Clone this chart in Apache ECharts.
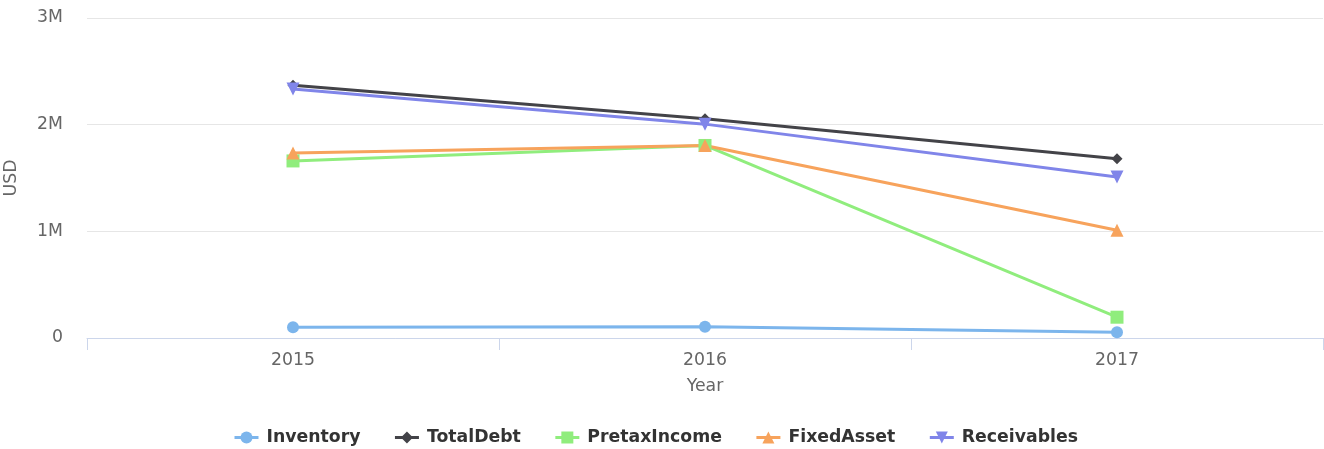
<!DOCTYPE html>
<html>
<head>
<meta charset="utf-8">
<script src="https://cdn.jsdelivr.net/npm/echarts@6/dist/echarts.min.js"></script>
<style>
  html, body { margin: 0; padding: 0; background: #fff; }
  #main { width: 1324px; height: 449px; }
</style>
</head>
<body>
<div id="main"></div>
<script>
// 数据
var years = ['2015', '2016', '2017'];
var inventory = [100000, 105000, 55000];
var totalDebt = [2370000, 2055000, 1680000];
var pretaxIncome = [1660000, 1805000, 195000];
var fixedAsset = [1735000, 1805000, 1010000];
var receivables = [2335000, 2005000, 1510000];

var font = '"DejaVu Sans", Verdana, sans-serif';
var myChart = echarts.init(document.getElementById('main'));

function line(name, data, color, symbol, size, rotate) {
    return {
        name: name,
        type: 'line',
        data: data,
        symbol: symbol,
        symbolSize: size,
        symbolRotate: rotate || 0,
        showAllSymbol: true,
        lineStyle: { width: 3, color: color },
        itemStyle: { color: color },
        emphasis: { disabled: true }
    };
}

myChart.setOption({
    animation: false,
    textStyle: { fontFamily: font },
    grid: { left: 87, right: 1, top: 18, bottom: 111, containLabel: false, outerBoundsMode: 'none' },
    legend: {
        top: 424,
        left: 228,
        itemGap: 33,
        itemWidth: 24,
        itemHeight: 15,
        lineStyle: { width: 3 },
        textStyle: { fontFamily: font, fontSize: 17.3, fontWeight: 'bold', color: '#333', padding: [0, 0, 0, 3] }
    },
    xAxis: {
        type: 'category',
        data: years,
        name: 'Year',
        nameLocation: 'middle',
        nameGap: 40,
        nameTextStyle: { fontFamily: font, fontSize: 17.3, color: '#666' },
        axisLine: { lineStyle: { color: '#ccd6eb', width: 1 } },
        axisTick: { show: true, length: 12, lineStyle: { color: '#ccd6eb' } },
        axisLabel: { fontFamily: font, fontSize: 17.3, color: '#666', margin: 14 }
    },
    yAxis: {
        type: 'value',
        min: 0,
        max: 3000000,
        interval: 1000000,
        name: 'USD',
        nameLocation: 'middle',
        nameGap: 67,
        nameTextStyle: { fontFamily: font, fontSize: 17.3, color: '#666' },
        axisLine: { show: false },
        axisTick: { show: false },
        splitLine: { lineStyle: { color: '#e6e6e6', width: 1 } },
        axisLabel: {
            fontFamily: font,
            fontSize: 17.3,
            color: '#666',
            margin: 24,
            padding: [6, 0, 0, 0],
            formatter: function (v) { return v === 0 ? '0' : (v / 1000000) + 'M'; }
        }
    },
    series: [
        line('Inventory', inventory, '#7cb5ec', 'circle', 12),
        line('TotalDebt', totalDebt, '#434348', 'path://M5,0L10,5L5,10L0,5Z', 11),
        line('PretaxIncome', pretaxIncome, '#90ed7d', 'rect', 13),
        line('FixedAsset', fixedAsset, '#f7a35c', 'triangle', 13),
        line('Receivables', receivables, '#8085e9', 'triangle', 13, 180)
    ]
});
</script>
</body>
</html>
